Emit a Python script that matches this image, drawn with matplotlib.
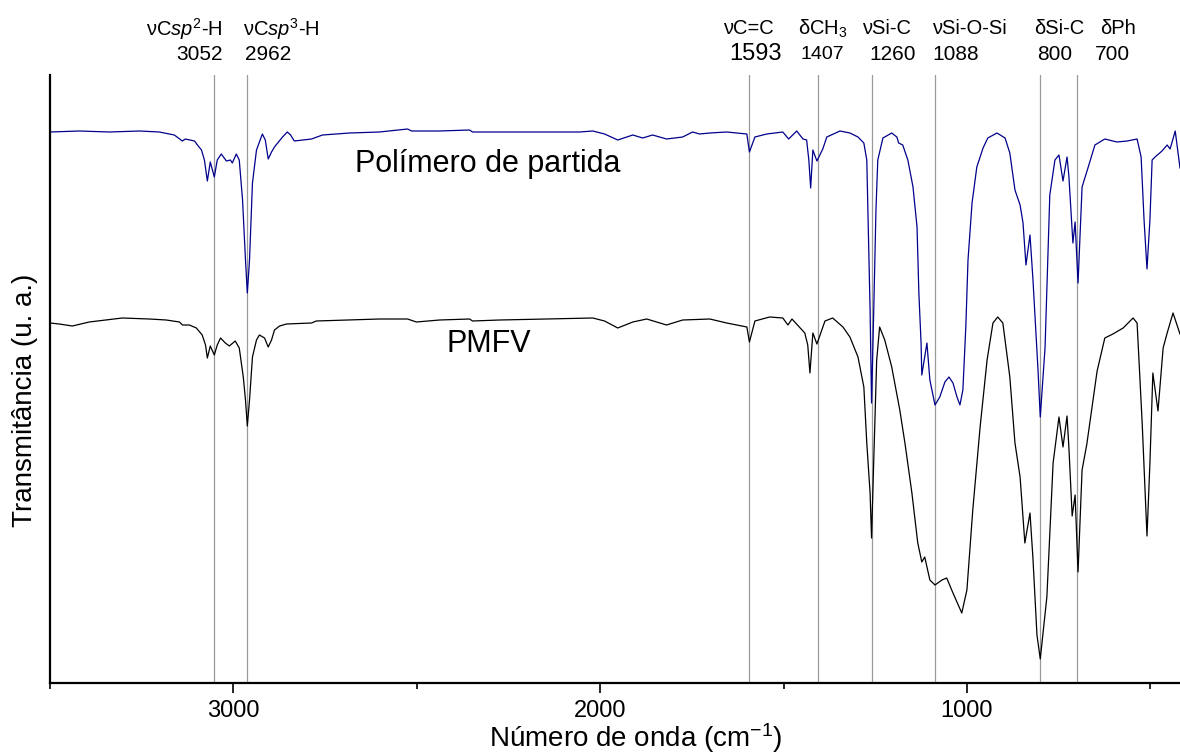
import matplotlib
matplotlib.use("Agg")
import matplotlib.pyplot as plt

plt.rcParams['font.family'] = ['Liberation Sans', 'DejaVu Sans']
plt.rcParams['mathtext.fontset'] = 'custom'
plt.rcParams['mathtext.rm'] = 'Liberation Sans'
plt.rcParams['mathtext.it'] = 'Liberation Sans:italic'

# Espectro do polímero de partida (número de onda, transmitância u.a.)
wn_partida = [3500, 3420, 3338, 3256, 3202, 3161, 3139, 3131, 3106, 3098,
              3087, 3079, 3071, 3063, 3052, 3044, 3033, 3019, 3008, 3003,
              2992, 2984, 2975, 2967, 2962, 2956, 2948, 2937, 2921, 2913,
              2905, 2896, 2888, 2866, 2853, 2844, 2834, 2787, 2757, 2683,
              2602, 2525, 2514, 2438, 2356, 2348, 2310, 2192, 2056, 2020,
              1988, 1952, 1911, 1884, 1857, 1819, 1775, 1748, 1729, 1701,
              1655, 1600, 1593, 1578, 1546, 1502, 1486, 1464, 1447, 1437,
              1431, 1426, 1420, 1409, 1393, 1382, 1346,
              1319, 1297, 1281, 1273, 1270, 1264, 1260, 1254, 1248, 1243,
              1229, 1205, 1191, 1186, 1175, 1161, 1147, 1136, 1131, 1125,
              1123, 1109, 1101, 1087, 1074, 1060, 1049, 1038, 1027, 1019,
              1011, 1003, 997, 986, 973, 956, 943, 918, 896, 883,
              869, 855, 847, 839, 828,
              820, 806, 800, 787, 774, 760, 749, 738, 727, 722,
              711, 705, 697, 686, 670, 651, 624, 591, 563, 536,
              525, 517, 509, 501, 495, 487, 468, 454, 446, 432, 419]
t_partida = [551, 552, 551, 552, 551, 548, 542, 544, 542, 538,
             533, 523, 502, 521, 506, 523, 529, 522, 523, 520,
             529, 523, 483, 423, 390, 423, 500, 533, 549, 543,
             524, 531, 536, 546, 551, 548, 542, 544, 548, 550,
             551, 554, 552, 552, 553, 551, 551, 551, 551, 552,
             549, 543, 548, 545, 548, 544, 546, 551, 549, 550,
             551, 549, 531, 546, 549, 551, 544, 552, 544, 543,
             523, 495, 533, 522, 534, 546, 552,
             550, 546, 540, 523, 473, 373, 280, 373, 473, 523,
             545, 550, 546, 540, 538, 523, 496, 456, 390, 340,
             308, 340, 303, 278, 286, 301, 306, 300, 286, 278,
             293, 356, 423, 480, 516, 535, 545, 550, 545, 530,
             493, 478, 460, 418, 448,
             404, 312, 266, 335, 488, 523, 528, 502, 526, 507,
             440, 461, 400, 496, 515, 538, 544, 541, 542, 544,
             526, 463, 414, 463, 523, 526, 532, 538, 534, 552, 515]

# Espectro do PMFV
wn_pmfv = [3500, 3475, 3439, 3393, 3303, 3229, 3183, 3147, 3139, 3120,
           3101, 3085, 3076, 3071, 3063, 3052, 3044, 3035, 3022, 3011,
           2995, 2984, 2973, 2967, 2962, 2956, 2948, 2937, 2929, 2915,
           2905, 2896, 2888, 2874, 2855, 2787, 2774, 2683, 2602, 2547,
           2525, 2501, 2438, 2356, 2348, 2274, 2020, 1988, 1952, 1911,
           1873, 1819, 1775, 1701, 1655, 1600, 1593, 1578, 1538, 1502,
           1488, 1477, 1442, 1434, 1428, 1420, 1409, 1387, 1366, 1338,
           1319, 1297, 1281, 1273, 1264, 1260, 1254, 1246, 1238, 1224,
           1205, 1183, 1169, 1150, 1134, 1123, 1115, 1101, 1087, 1068,
           1055, 1038, 1014, 1000, 984, 964, 945, 929, 916, 902,
           883, 869, 855, 842, 828,
           820, 809, 800, 782, 765, 749, 738, 727, 722, 713,
           705, 697, 686, 673, 645, 624, 602, 574, 547, 536,
           522, 509, 501, 493, 479, 465, 454, 438, 419]
t_pmfv = [360, 359, 357, 361, 365, 364, 363, 361, 358, 358,
          355, 348, 338, 325, 337, 328, 338, 345, 340, 337,
          342, 335, 306, 283, 257, 283, 326, 343, 348, 345,
          336, 343, 353, 357, 359, 360, 362, 363, 364, 364,
          364, 361, 363, 364, 362, 363, 365, 362, 355, 361,
          364, 358, 363, 364, 360, 356, 341, 362, 366, 365,
          358, 364, 350, 338, 310, 350, 339, 362, 365, 356,
          346, 326, 296, 240, 190, 145, 223, 323, 356, 343,
          316, 273, 240, 190, 140, 121, 126, 103, 98, 103,
          105, 90, 70, 93, 173, 256, 323, 360, 366, 360,
          306, 240, 206, 140, 170,
          125, 48, 24, 86, 220, 266, 236, 267, 236, 167,
          188, 111, 213, 239, 312, 345, 349, 355, 365, 360,
          259, 147, 220, 310, 272, 335, 350, 370, 349]

# Bandas atribuídas
bandas = [3052, 2962, 1593, 1407, 1260, 1088, 800, 700]
nomes = ['νC$\\mathit{sp}^{2}$-H', 'νC$\\mathit{sp}^{3}$-H', 'νC=C',
         'δCH$_{3}$', 'νSi-C', 'νSi-O-Si', 'δSi-C', 'δPh']
rotulos = ['3052', '2962', '1593', '1407', '1260', '1088', '800', '700']

# posições dos textos (centro, em número de onda) e tamanhos
x_nome = [3134, 2870, 1595, 1393, 1218, 993, 749, 589]
x_num = [3093, 2905, 1576, 1393, 1202, 1030, 760, 604]
tam_num = [15, 15, 17, 14, 15, 15, 15, 15]

fig = plt.figure(figsize=(11.8, 7.53), dpi=100)
ax = fig.add_axes([50 / 1180, 70 / 753, 1130 / 1180, 608 / 753])

for b in bandas:
    ax.axvline(b, color='#9a9a9a', lw=0.9, zorder=0)

ax.plot(wn_partida, t_partida, color='#00008B', lw=0.9)
ax.plot(wn_pmfv, t_pmfv, color='black', lw=0.9)

ax.set_xlim(3500, 419)
ax.set_ylim(0, 608)

for s in ['top', 'right']:
    ax.spines[s].set_visible(False)
for s in ['left', 'bottom']:
    ax.spines[s].set_linewidth(1.6)

ax.set_yticks([])
ax.set_xticks([3000, 2000, 1000])
ax.set_xticks([3500, 2500, 1500, 500], minor=True)
ax.tick_params(axis='x', which='major', length=7, width=1.2, labelsize=17, pad=5)
ax.tick_params(axis='x', which='minor', length=4, width=1.2)

trans = ax.get_xaxis_transform()
for nome, xn, rot, xr, tn in zip(nomes, x_nome, rotulos, x_num, tam_num):
    ax.text(xn, 1.0757, nome, transform=trans, ha='center', va='center',
            fontsize=14.5, clip_on=False)
    ax.text(xr, 1.0345, rot, transform=trans, ha='center', va='center',
            fontsize=tn, clip_on=False)

ax.text(2306, 511, 'Polímero de partida', ha='center', va='baseline', fontsize=22)
ax.text(2303, 331, 'PMFV', ha='center', va='baseline', fontsize=22)

fig.text(25 / 1180, 1 - 400 / 753, 'Transmitância (u. a.)', rotation=90,
         ha='center', va='center', fontsize=20)
fig.text(636 / 1180, 1 - 738 / 753, 'Número de onda (cm$^{\\mathrm{-1}}$)',
         ha='center', va='center', fontsize=20)

fig.savefig('out.png', dpi=100)
